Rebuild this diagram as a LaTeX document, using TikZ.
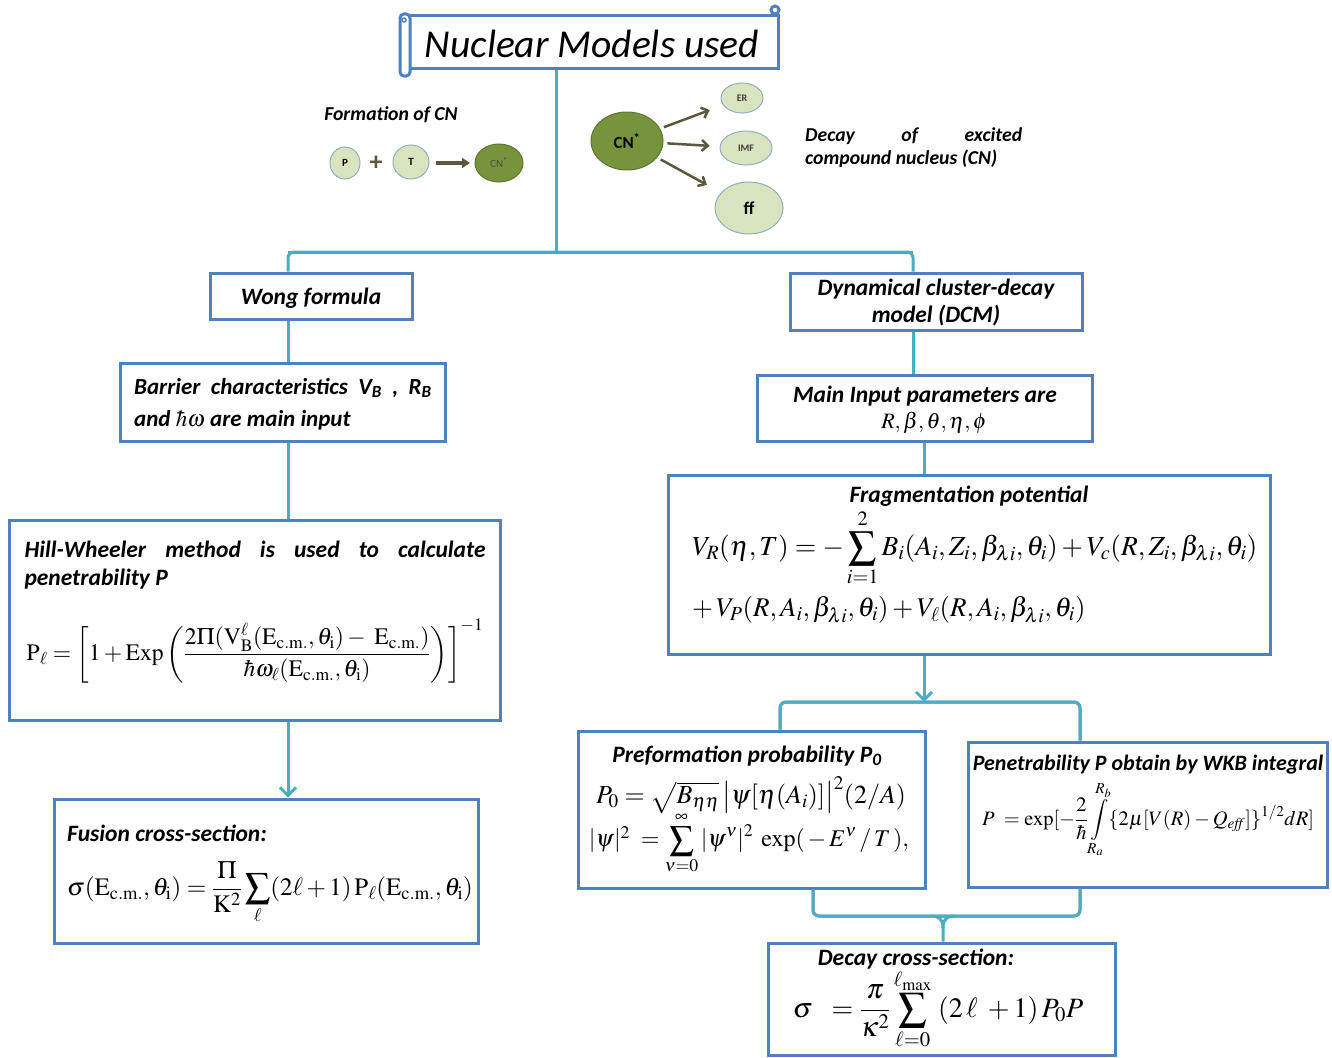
\documentclass[tikz,border=0pt]{standalone}
\usepackage{amsmath}
\usepackage{mathptmx}
\usepackage[no-math]{fontspec}
\setmainfont{Carlito}
\usetikzlibrary{arrows.meta,fit,shapes.geometric}
\definecolor{boxblue}{RGB}{79,129,189}
\definecolor{conncol}{RGB}{75,172,198}
\definecolor{lgreen}{RGB}{215,228,189}
\definecolor{dgreen}{RGB}{119,147,60}
\definecolor{olive}{RGB}{92,88,62}
\definecolor{ringc}{RGB}{150,172,195}
\tikzset{
  box/.style={draw=boxblue, line width=3pt, fill=white, inner sep=0pt},
  conn/.style={draw=conncol, line width=3pt},
  shadowline/.style={draw=black!45, line width=3pt},
  lab/.style={font=\fontsize{23.5}{27}\selectfont\bfseries\itshape, inner sep=0pt},
  eq/.style={inner sep=0pt},
  ball/.style={ellipse, draw=ringc, line width=1pt, fill=lgreen, inner sep=0pt},
  dball/.style={ellipse, draw=dgreen!80!black, line width=1pt, fill=dgreen, inner sep=0pt},
  barb/.style={-{Straight Barb[length=8pt,width=16pt]}},
  oarrow/.style={draw=olive, line width=2.5pt, -{Straight Barb[length=6pt,width=11pt]}}
}
\begin{document}
\begin{tikzpicture}[x=1pt,y=-1pt]
\useasboundingbox (0,0) rectangle (1332,1057);

% ---------- title scroll ----------
\node[box, fit={(408,16) (778,68)}] (title) {};
\draw[boxblue, line width=3pt, rounded corners=4pt, fill=white] (400,14) rectangle (410,76);
\draw[boxblue, line width=1.5pt] (404,20) circle (2);
\draw[boxblue, line width=3pt, fill=white] (775,10) circle (4);
\node[font=\fontsize{39.5}{42}\selectfont\itshape, inner sep=0pt] (titleT) at (592,44) {Nuclear Models used};

% ---------- formation of CN ----------
\node[font=\fontsize{19.7}{22}\selectfont\bfseries\itshape, inner sep=0pt] (formT) at (391,115) {Formation of CN};
\node[ball, minimum width=30pt, minimum height=32pt, font=\fontsize{11}{12}\selectfont\bfseries] (p) at (345,163) {P};
\node[text=olive, font=\fontsize{26}{26}\selectfont\bfseries, inner sep=0pt] (plus) at (376,163) {+};
\node[ball, minimum width=36pt, minimum height=34pt, font=\fontsize{11}{12}\selectfont\bfseries] (t) at (411,162) {T};
\node[dball, minimum width=48pt, minimum height=38pt, font=\fontsize{11}{12}\selectfont, text=black!70] (cn1) at (499,163) {CN\textsuperscript{*}};
\draw[olive, line width=4pt, -{Triangle[length=8pt,width=10pt]}] (t) ++(25,1) coordinate (a1) -- (cn1.west -| 470,0);

% ---------- decay of CN ----------
\node[dball, minimum width=72pt, minimum height=58pt, font=\fontsize{17}{18}\selectfont\bfseries] (cnd) at (627,141) {CN\textsuperscript{*}};
\node[ball, minimum width=42pt, minimum height=30pt, font=\fontsize{10}{12}\selectfont\bfseries, text=black!75] (er) at (742,98) {ER};
\node[ball, minimum width=52pt, minimum height=34pt, font=\fontsize{10}{12}\selectfont\bfseries, text=black!75] (imf) at (746,148) {IMF};
\node[ball, minimum width=68pt, minimum height=52pt, font=\fontsize{18}{20}\selectfont\bfseries] (ff) at (749,208) {ff};
\draw[oarrow, shorten <=4pt, shorten >=14pt] (cnd) -- (er);
\draw[oarrow, shorten <=4pt, shorten >=10pt] (cnd) -- (imf);
\draw[oarrow, shorten <=4pt, shorten >=16pt] (cnd) -- (ff);
\node[font=\fontsize{19.7}{23.5}\selectfont\bfseries\itshape, text width=217pt, align=justify, inner sep=0pt, anchor=north west] (decT) at (805,127) {Decay of excited\linebreak compound nucleus (CN)};

% ---------- boxes ----------
\node[box, fit={(210,273) (412,319)}] (wong) {};
\node[box, fit={(790,273) (1082,330)}] (dcm) {};
\node[box, fit={(120,363) (445,441)}] (barrier) {};
\node[box, fit={(9,520) (500,720)}] (hill) {};
\node[box, fit={(54,799) (478,943)}] (fusion) {};
\node[box, fit={(757,375) (1092,441)}] (mainin) {};
\node[box, fit={(668,475) (1270,654)}] (frag) {};
\node[box, fit={(578,731) (925,888)}] (pref) {};
\node[box, fit={(968,742) (1327,887)}] (pen) {};
\node[box, fit={(768,943) (1115,1055)}] (decay) {};

% ---------- connectors ----------
\coordinate (j0) at (556,252);
\coordinate (lx) at (288,0);
\coordinate (rx) at (913,0);
\coordinate (mx) at (924,0);
\coordinate (j1) at (924,702);
\coordinate (bx1) at (780,0);
\coordinate (bx2) at (1080,0);
\coordinate (bx3) at (813,0);
\coordinate (j2) at (943,916);

\draw[conn] (title.south -| j0) -- (j0);
\draw[shadowline, rounded corners=6pt, shift={(1.5,2.5)}] (lx |- j0) -- (rx |- j0);
\draw[conn, rounded corners=6pt] (wong.north -| lx) -- (lx |- j0) -- (rx |- j0) -- (dcm.north -| rx);
\draw[conn] (wong.south -| lx) -- (barrier.north -| lx);
\draw[conn] (barrier.south -| lx) -- (hill.north -| lx);
\draw[conn, barb] (hill.south -| lx) -- (fusion.north -| lx);
\draw[conn] (dcm.south -| rx) -- (mainin.north -| rx);
\draw[conn] (mainin.south -| mx) -- (frag.north -| mx);

\draw[shadowline, rounded corners=6pt, shift={(1.5,2.5)}] (pref.north -| bx1) -- (bx1 |- j1) -- (bx2 |- j1) -- (pen.north -| bx2);
\draw[conn, rounded corners=6pt] (pref.north -| bx1) -- (bx1 |- j1) -- (bx2 |- j1) -- (pen.north -| bx2);
\draw[conn, barb] (frag.south -| mx) -- (j1);

\draw[shadowline, rounded corners=6pt, shift={(1.5,2.5)}] (pref.south -| bx3) -- (bx3 |- j2) -- (bx2 |- j2) -- (pen.south -| bx2);
\draw[conn, rounded corners=6pt] (pref.south -| bx3) -- (bx3 |- j2) -- (bx2 |- j2) -- (pen.south -| bx2);
\draw[conn] (j2) ++(-12,0) .. controls (938,916) and (943,918) .. (943,928) -- (decay.north -| j2);
\draw[conn] (j2) ++(12,0) .. controls (948,916) and (943,918) .. (943,928);

% ---------- texts ----------
\node[lab] (wongT) at (311,298) {Wong formula};
\node[lab, align=center] (dcmT) at (936,303) {Dynamical cluster-decay\\model (DCM)};
\node[lab, align=left, anchor=west, font=\fontsize{23}{32}\selectfont\bfseries\itshape] (barT) at (134,404)
  {Barrier\ \ characteristics\ \ V\textsubscript{B}\ \ ,\ \ R\textsubscript{B}\\and $\hbar\omega$ are main input};
\node[lab, text width=461pt, align=justify, font=\fontsize{23.5}{28}\selectfont\bfseries\itshape] (hillT) at (255,565)
  {Hill-Wheeler method is used to calculate\linebreak penetrability P};
\node[eq, font=\fontsize{23.6}{28}\selectfont] (hillF) at (255,651)
  {$\mathrm{P}_{\ell} =\left[1+\mathrm{Exp}\left(\dfrac{2\Pi(\mathrm{V}_{\mathrm{B}}^{\ell}(\mathrm{E}_{\mathrm{c.m.}},\theta_{\mathrm{i}})-\ \mathrm{E}_{\mathrm{c.m.}})}{\hbar\omega_{\ell}(\mathrm{E}_{\mathrm{c.m.}},\theta_{\mathrm{i}})}\right)\right]^{-1}$};
\node[lab, anchor=west] (fusT) at (67,833) {Fusion cross-section:};
\node[eq, font=\fontsize{25}{28}\selectfont] (fusF) at (270,893)
  {$\sigma(\mathrm{E}_{\mathrm{c.m.}},\theta_{\mathrm{i}}) =\dfrac{\Pi}{\mathrm{K}^{2}}\displaystyle\sum_{\ell}(2\ell+1)\,\mathrm{P}_{\ell}(\mathrm{E}_{\mathrm{c.m.}},\theta_{\mathrm{i}})$};

\node[lab] (mainT) at (925,396) {Main Input parameters are};
\node[eq, font=\fontsize{22}{24}\selectfont] (mainF) at (934,423) {$R,\beta,\theta,\eta,\phi$};

\node[lab] (fragT) at (969,496) {Fragmentation potential};
\node[eq, anchor=west, font=\fontsize{27.5}{30}\selectfont] (fragF1) at (692,548)
  {$V_{R}(\eta,T) =-\displaystyle\sum_{i=1}^{2}B_{i}(A_{i},Z_{i},\beta_{\lambda i},\theta_{i})+V_{c}(R,Z_{i},\beta_{\lambda i},\theta_{i})$};
\node[eq, anchor=west, font=\fontsize{27}{30}\selectfont] (fragF2) at (692,610)
  {$+\,V_{P}(R,A_{i},\beta_{\lambda i},\theta_{i})+V_{\ell}(R,A_{i},\beta_{\lambda i},\theta_{i})$};

\node[lab] (prefT) at (747,756) {Preformation probability P\textsubscript{0}};
\node[eq, font=\fontsize{26}{28}\selectfont] (prefF1) at (751,795)
  {$P_{0} =\sqrt{B_{\eta\eta}}\,\bigl|\psi[\eta(A_{i})]\bigr|^{2}(2/A)$};
\node[eq, font=\fontsize{24}{26}\selectfont] (prefF2) at (749,843)
  {$|\psi|^{2}\ =\displaystyle\sum_{\nu=0}^{\infty}|\psi^{\nu}|^{2}\ \exp(\,-\,E^{\nu}\,/\,T\,),$};

\node[lab, font=\fontsize{22}{26}\selectfont\bfseries\itshape] (penT) at (1148,765) {Penetrability P obtain by WKB integral};
\node[eq, font=\fontsize{20.5}{24}\selectfont] (penF) at (1148,820)
  {$P\ =\exp[-\dfrac{2}{\hbar}\displaystyle\int\limits_{R_{a}}^{R_{b}}\{2\mu[V(R)-Q_{\mathit{eff}}]\}^{1/2}dR]$};

\node[lab] (decayT) at (916,959) {Decay cross-section:};
\node[eq, font=\fontsize{28}{30}\selectfont] (decayF) at (938,1010)
  {$\sigma\ \ =\dfrac{\pi}{\kappa^{2}}\displaystyle\sum_{\ell=0}^{\ell_{\max}}\ (2\,\ell\ +1)\,P_{0}P$};
\end{tikzpicture}
\end{document}
